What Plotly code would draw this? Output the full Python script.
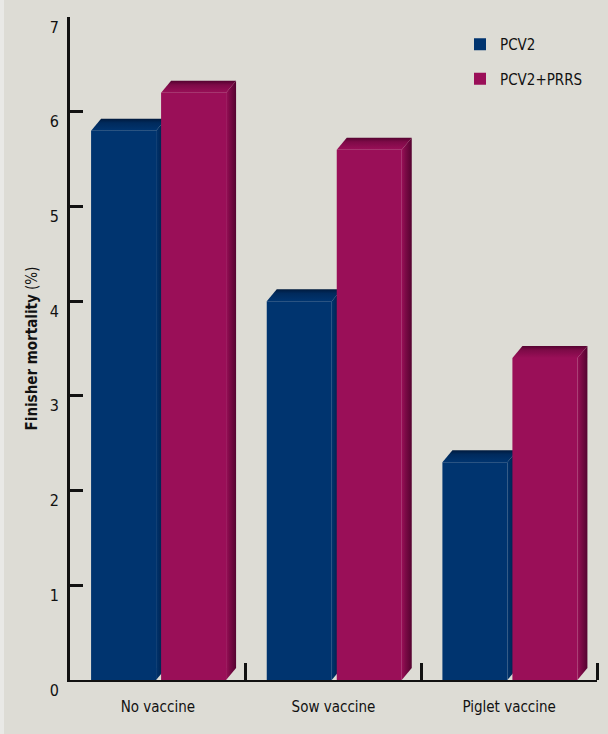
import plotly.graph_objects as go

# Finisher mortality by vaccination strategy
categories = ["No vaccine", "Sow vaccine", "Piglet vaccine"]
pcv2 = [5.8, 4.0, 2.3]
pcv2_prrs = [6.2, 5.6, 3.4]
y_ticks = [0, 1, 2, 3, 4, 5, 6, 7]

BG = "#dddcd5"
EDGE = "#e9e9e6"
INK = "#111111"
BLUE, BLUE_MID, BLUE_DARK = "#00346f", "#002a5c", "#001a3d"
MAG, MAG_MID, MAG_DARK = "#9a0f58", "#7d0a47", "#540330"
FONT = "DejaVu Sans Condensed, Liberation Sans Narrow, sans-serif"

# plot area geometry (pixels) used to size the extruded bar faces
PLOT_W, PLOT_H = 527, 663
X_UNIT_PX = PLOT_W / 3
Y_UNIT_PX = PLOT_H / 7
BOX_W = 75 / X_UNIT_PX        # full footprint of one bar incl. side face
DX = 10 / X_UNIT_PX           # depth of the extrusion, horizontal
DY = 12 / Y_UNIT_PX           # depth of the extrusion, vertical
FRONT_W = BOX_W - DX
BLUE_OFFSET = -0.38
MAG_OFFSET = BLUE_OFFSET + 70 / X_UNIT_PX

series = [
    ("PCV2", pcv2, BLUE, BLUE_MID, BLUE_DARK, BLUE_OFFSET, "x", "y"),
    ("PCV2+PRRS", pcv2_prrs, MAG, MAG_MID, MAG_DARK, MAG_OFFSET, "x2", "y2"),
]

fig = go.Figure()
xs = list(range(len(categories)))

for name, vals, base, mid, dark, off, xa, ya in series:
    fig.add_trace(go.Bar(
        x=xs, y=vals, name=name, width=FRONT_W, offset=off,
        marker=dict(color=base, line=dict(width=0)),
        xaxis=xa, yaxis=ya, legendgroup=name,
    ))
    for i, v in zip(xs, vals):
        x0 = i + off
        x1 = x0 + BOX_W
        # top face of the extruded bar
        fig.add_trace(go.Scatter(
            x=[x0, x0 + DX, x1, x1 - DX, x0],
            y=[v, v + DY, v + DY, v, v],
            fill="toself", mode="lines", line=dict(width=0),
            fillgradient=dict(type="vertical", start=v + DY, stop=v,
                              colorscale=[[0, dark], [0.35, mid], [1, base]]),
            hoverinfo="skip", showlegend=False, xaxis=xa, yaxis=ya,
        ))
        # right-hand side face
        fig.add_trace(go.Scatter(
            x=[x1 - DX, x1, x1, x1 - DX, x1 - DX],
            y=[0, DY, v + DY, v, 0],
            fill="toself", mode="lines", line=dict(width=0),
            fillgradient=dict(type="horizontal", start=x1 - DX, stop=x1,
                              colorscale=[[0, base], [0.35, mid], [1, dark]]),
            hoverinfo="skip", showlegend=False, xaxis=xa, yaxis=ya,
        ))

Y_RANGE = [-0.0005, 7.0005]

fig.update_layout(
    width=608, height=734,
    margin=dict(l=70, r=11, t=17, b=54),
    paper_bgcolor=BG, plot_bgcolor=BG,
    font=dict(family=FONT, size=15, color=INK),
    barmode="overlay",
    showlegend=True,
    legend=dict(
        x=(460 - 70) / PLOT_W, y=1 - (28 - 17) / PLOT_H,
        xanchor="left", yanchor="top",
        bgcolor="rgba(0,0,0,0)", font=dict(size=15, color=INK),
        traceorder="grouped", tracegroupgap=12, itemwidth=30,
    ),
    xaxis=dict(
        range=[-0.5, 2.5], tickvals=xs, ticktext=categories,
        ticks="", showline=True, linecolor=INK, linewidth=1.6,
        showgrid=False, zeroline=False, ticklabelstandoff=12,
        minor=dict(tickvals=[0.5, 1.5, 2.5], ticks="inside",
                   ticklen=17, tickwidth=2.6, tickcolor=INK, showgrid=False),
        fixedrange=True,
    ),
    yaxis=dict(
        range=Y_RANGE, tickvals=y_ticks, ticks="inside", ticklen=13,
        tickwidth=2.6, tickcolor=INK, showline=True, linecolor=INK,
        linewidth=2.8, showgrid=False, zeroline=False,
        ticklabelshift=10, ticklabelstandoff=5,
        tickfont=dict(size=16, color=INK),
        title=dict(text="<b>Finisher mortality</b> (%)", standoff=9,
                   font=dict(size=15, color=INK)),
        fixedrange=True,
    ),
    xaxis2=dict(overlaying="x", range=[-0.5, 2.5], visible=False, fixedrange=True),
    yaxis2=dict(overlaying="y", range=Y_RANGE, visible=False, fixedrange=True),
    shapes=[dict(
        type="rect", xref="paper", yref="paper", layer="below",
        x0=-70 / PLOT_W, x1=-66 / PLOT_W,
        y0=-54 / PLOT_H, y1=1 + 17 / PLOT_H,
        fillcolor=EDGE, line=dict(width=0),
    )],
)

fig.write_html("out.html")
